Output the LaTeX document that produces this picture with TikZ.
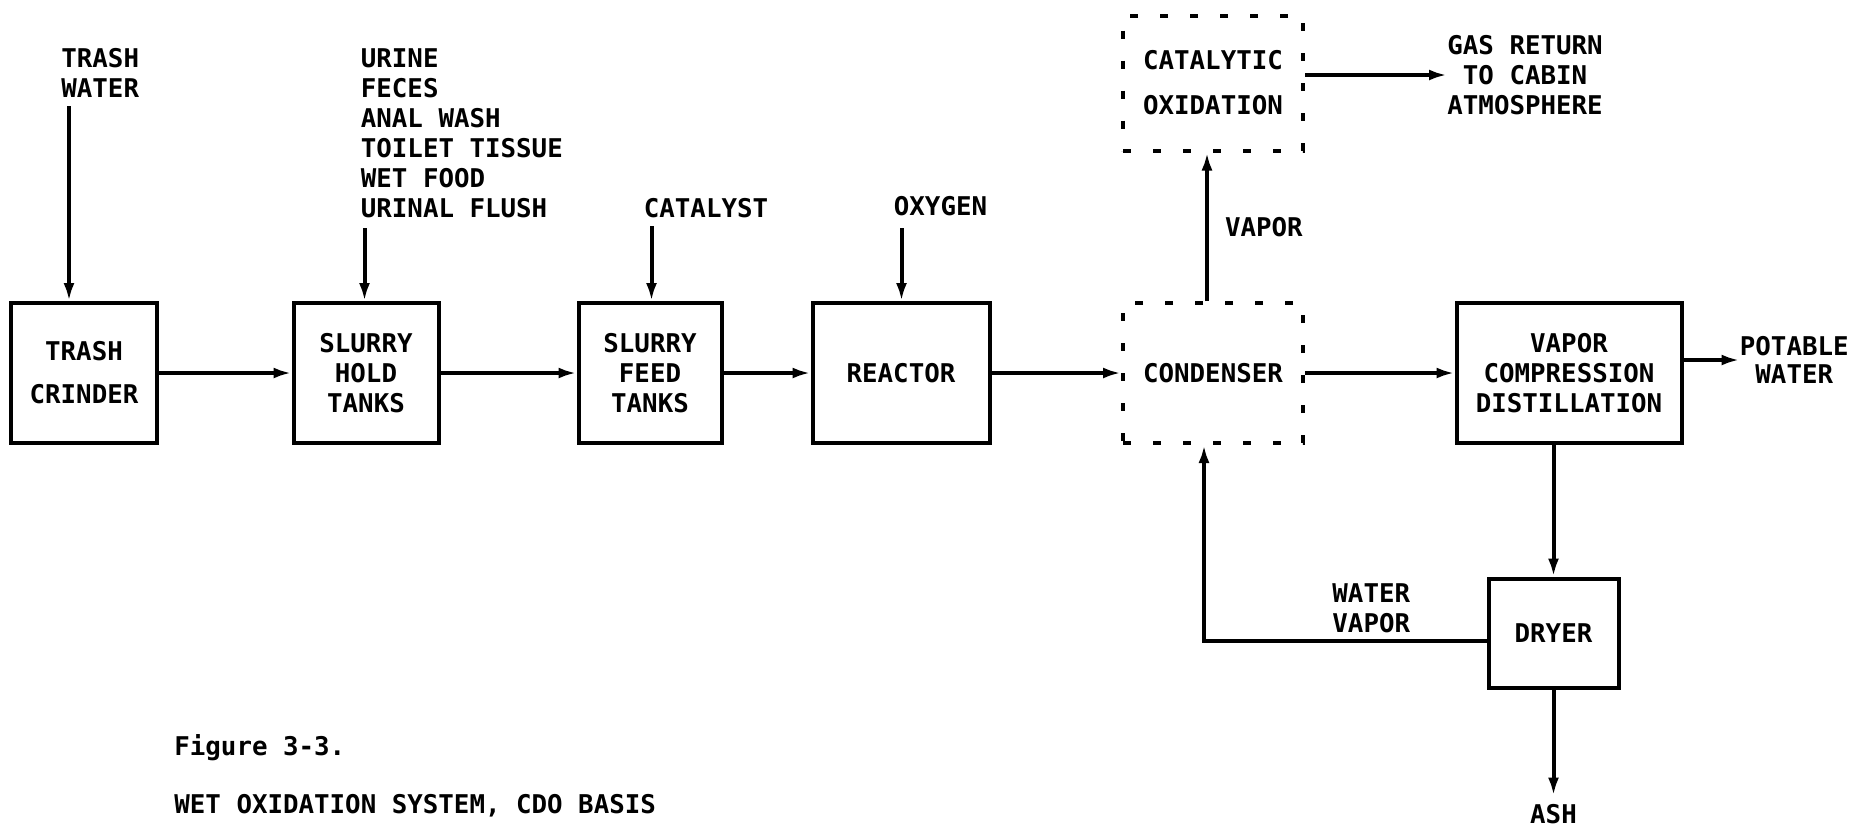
\documentclass[tikz,border=0pt]{standalone}
\usepackage{fontspec}
\setmonofont{DejaVu Sans Mono}
\usetikzlibrary{positioning, arrows.meta}
\newcommand{\typefont}{\ttfamily\bfseries\fontsize{12.9}{15}\selectfont}

\begin{document}
\begin{tikzpicture}[node distance=142pt, font=\typefont]
    \tikzstyle{block} = [draw, rectangle, line width=2pt, align=center, inner sep=0pt, minimum height=70pt]
    \tikzstyle{dashblock} = [block, dash pattern=on 4pt off 11pt]
    \tikzstyle{lbl} = [inner sep=0pt, align=left]
    \tikzstyle{line} = [draw, line width=2pt, -{Latex[length=9pt,width=5.5pt]}]

    \useasboundingbox (0,0) rectangle (927pt,-416pt);

    % main chain
    \node [block, minimum width=73pt] (grinder) at (42pt,-186.5pt) {TRASH\\[6.5pt]CRINDER};
    \node [block, right of=grinder, xshift=-1pt, minimum width=72.5pt] (hold) {SLURRY\\HOLD\\TANKS};
    \node [block, right of=hold, minimum width=71.5pt] (feed) {SLURRY\\FEED\\TANKS};
    \node [block, right of=feed, xshift=-16.5pt, minimum width=88.5pt] (reactor) {REACTOR};
    \node [dashblock, right of=reactor, xshift=14pt, minimum width=90pt] (cond) {CONDENSER};
    \node [block, right of=cond, xshift=36pt, minimum width=112.5pt] (vcd) {VAPOR\\COMPRESSION\\DISTILLATION};
    \node [dashblock, node distance=145pt, above of=cond, minimum width=90pt, minimum height=67.5pt] (catox) {CATALYTIC\\[7.5pt]OXIDATION};
    \node [block, node distance=130pt, below of=vcd, xshift=-7.75pt, minimum width=65pt, minimum height=54.5pt] (dryer) {DRYER};

    % inputs and outputs
    \node [lbl, above right=101.5pt and 26pt of grinder.north west] (trashin) {TRASH\\WATER};
    \node [lbl, above right=41.5pt and 34.5pt of hold.north west] (wastes) {URINE\\FECES\\ANAL WASH\\TOILET TISSUE\\WET FOOD\\URINAL FLUSH};
    \node [lbl, above right=41.5pt and 33.5pt of feed.north west] (catalyst) {CATALYST};
    \node [lbl, above right=42.5pt and 41.5pt of reactor.north west] (oxygen) {OXYGEN};
    \node [lbl, align=center, right=71pt of catox, yshift=4pt] (gas) {GAS RETURN\\TO CABIN\\ATMOSPHERE};
    \node [lbl, align=center, right=28pt of vcd, yshift=6.5pt] (potable) {POTABLE\\[-1pt]WATER};
    \node [lbl, below=57pt of dryer] (ash) {ASH};
    \node [lbl, above left=0pt and 38pt of dryer.west] (wvapor) {WATER\\VAPOR};
    \node [lbl, below right=144.5pt and 82.5pt of grinder.south west] (caption) {Figure 3-3.\\[14pt]WET OXIDATION SYSTEM, CDO BASIS};

    \path [line] ([xshift=4pt,yshift=-4pt]trashin.south west) -- ([xshift=4pt]trashin.south west |- grinder.north);
    \path [line] ([xshift=2pt,yshift=-5pt]wastes.south west) -- ([xshift=2pt]wastes.south west |- hold.north);
    \path [line] ([xshift=4pt,yshift=-4pt]catalyst.south west) -- ([xshift=4pt]catalyst.south west |- feed.north);
    \path [line] ([xshift=4pt,yshift=-6pt]oxygen.south west) -- ([xshift=4pt]oxygen.south west |- reactor.north);

    \path [line] (grinder) -- (hold);
    \path [line] (hold) -- (feed);
    \path [line] (feed) -- (reactor);
    \path [line] (reactor) -- (cond);
    \path [line] (cond) -- (vcd);
    \path [line] (vcd.east |- potable.west) -- (potable.west);
    \path [line] ([xshift=-3pt]cond.north) -- node [lbl, right=8pt] (vaporlbl) {VAPOR} ([xshift=-3pt]catox.south);
    \path [line] (catox.east |- gas.west) -- (gas.west);
    \path [line] (vcd.south -| dryer.north) -- (dryer.north);
    \path [line] (dryer) -- ([yshift=4pt]ash.north);
    \path [line] ([yshift=-3.75pt]dryer.west) -| ([xshift=-4.5pt]cond.south);
\end{tikzpicture}
\end{document}
